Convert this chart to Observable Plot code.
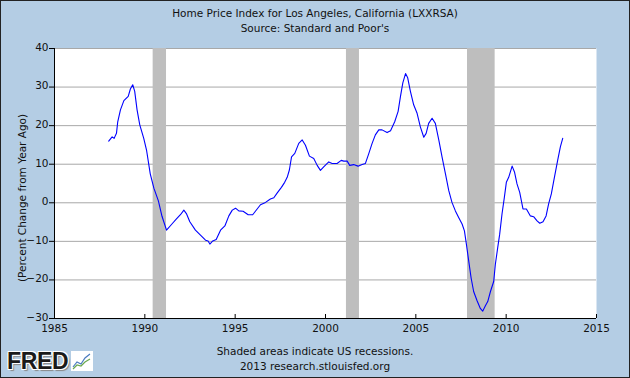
<!DOCTYPE html>
<html><head><meta charset="utf-8">
<script src="https://cdn.jsdelivr.net/npm/d3@7"></script>
<script src="https://cdn.jsdelivr.net/npm/@observablehq/plot@0.6"></script>
<style>
html,body{margin:0;padding:0;background:#fff}
#chart{position:relative;width:630px;height:378px;background:#B4CDE4;font-family:"DejaVu Sans",sans-serif;color:#111;overflow:hidden}
.t{position:absolute;left:0;width:630px;text-align:center;font-size:10.5px;line-height:12px;white-space:nowrap}
#plot{position:absolute;left:0;top:0}
#ylab{position:absolute;left:22px;top:198px;transform:translate(-50%,-50%) rotate(-90deg);font-size:10.5px;white-space:nowrap}
#border{position:absolute;left:0;top:0;width:630px;height:378px;box-sizing:border-box;border:1px solid #222;pointer-events:none}
#logo{position:absolute;left:7px;top:349px;height:24px;display:flex;align-items:center;gap:3px}
#logo b{font-family:"Liberation Sans",Arial,sans-serif;font-weight:900;font-size:23px;color:#1a1a1a;letter-spacing:-0.3px;text-shadow:1px 1px 0 #fff,-1px -1px 0 #fff,1px -1px 0 #fff,-1px 1px 0 #fff,2px 2px 1px #888}
</style></head>
<body><div id="chart">
<div class="t" style="top:7px">Home Price Index for Los Angeles, California (LXXRSA)</div>
<div class="t" style="top:22px">Source: Standard and Poor's</div>
<div id="ylab">(Percent Change from Year Ago)</div>
<div id="plot"></div>
<div class="t" style="top:345px">Shaded areas indicate US recessions.</div>
<div class="t" style="top:360px">2013 research.stlouisfed.org</div>
<div id="logo"><b>FRED</b><svg width="22" height="20" viewBox="0 0 22 20"><rect x="0" y="0" width="22" height="20" fill="#fff"/><polyline points="2,16 6,11 10,13 14,7 19,3" fill="none" stroke="#4a7bbf" stroke-width="1.2"/><polyline points="2,18 6,14 10,15 14,11 19,8" fill="none" stroke="#6aa84f" stroke-width="1.2"/></svg></div>
<div id="border"></div>
</div>
<script>
// Year-over-year % change, Los Angeles home price index
const years = [1988.0,1988.19,1988.3,1988.43,1988.5,1988.65,1988.84,1989.08,1989.2,1989.33,1989.44,1989.57,1989.72,1989.94,1990.1,1990.3,1990.5,1990.75,1990.95,1991.2,1991.5,1991.75,1991.97,1992.16,1992.3,1992.49,1992.8,1993.08,1993.36,1993.5,1993.6,1993.76,1993.95,1994.19,1994.43,1994.65,1994.84,1995.02,1995.2,1995.44,1995.72,1995.97,1996.12,1996.4,1996.68,1996.95,1997.14,1997.32,1997.56,1997.74,1997.88,1998.0,1998.12,1998.3,1998.52,1998.71,1998.89,1999.11,1999.35,1999.54,1999.72,1999.9,2000.18,2000.37,2000.64,2000.87,2001.01,2001.2,2001.34,2001.56,2001.8,2002.03,2002.21,2002.4,2002.58,2002.76,2002.95,2003.13,2003.41,2003.6,2003.83,2004.02,2004.15,2004.28,2004.43,2004.55,2004.7,2004.88,2005.07,2005.25,2005.44,2005.57,2005.71,2005.9,2006.08,2006.27,2006.45,2006.64,2006.82,2007.0,2007.19,2007.37,2007.56,2007.69,2007.8,2007.93,2008.06,2008.2,2008.39,2008.57,2008.7,2008.85,2008.98,2009.13,2009.31,2009.4,2009.53,2009.64,2009.77,2009.9,2010.01,2010.14,2010.33,2010.46,2010.6,2010.75,2010.93,2011.12,2011.34,2011.52,2011.71,2011.86,2012.04,2012.21,2012.35,2012.5,2012.67,2012.85,2013.0,2013.13];
const values = [16.0,17.1,16.7,18.0,21.0,24.1,26.5,27.6,29.5,30.6,28.9,24.1,20.2,16.7,13.5,7.5,3.8,0.5,-3.5,-7.1,-5.5,-4.2,-3.1,-1.9,-2.8,-4.9,-7.1,-8.4,-9.7,-9.9,-10.7,-9.9,-9.5,-7.1,-6.0,-3.4,-1.9,-1.4,-2.1,-2.2,-3.1,-3.1,-2.2,-0.5,0.1,1.0,1.3,2.5,4.0,5.3,6.6,8.5,11.9,12.8,15.4,16.3,14.9,12.1,11.5,9.7,8.4,9.3,10.6,10.2,10.2,11.0,10.8,10.8,9.7,9.9,9.5,9.9,10.2,12.8,15.4,17.6,18.9,18.9,18.2,18.7,21.0,23.7,27.6,31.1,33.5,32.4,28.9,25.4,23.2,19.7,17.0,18.0,20.6,21.9,20.6,16.3,11.9,7.5,3.2,0.1,-2.1,-3.8,-5.5,-7.3,-10.8,-15.2,-19.5,-23.0,-25.4,-27.4,-28.1,-26.7,-25.6,-23.0,-20.4,-16.0,-11.7,-8.2,-2.9,1.4,5.3,6.6,9.5,8.0,4.9,2.7,-1.6,-1.6,-3.4,-3.6,-4.7,-5.3,-4.9,-3.4,-0.3,2.3,6.6,11.0,14.5,16.7];
const recessionStart = [1990.46, 2001.16, 2007.86];
const recessionEnd = [1991.2, 2001.88, 2009.39];
const xTicks = [1985, 1990, 1995, 2000, 2005, 2010, 2015];
const yTicks = [-30, -20, -10, 0, 10, 20, 30, 40];

const series = years.map((y, i) => ({year: y, value: values[i]}));
const recessions = recessionStart.map((s, i) => ({start: s, end: recessionEnd[i]}));

const plot = Plot.plot({
  width: 630, height: 378,
  marginTop: 48, marginBottom: 60, marginLeft: 54, marginRight: 34,
  style: {background: "transparent", fontFamily: "DejaVu Sans", fontSize: "10.5px", color: "#111", overflow: "visible"},
  x: {domain: [1985, 2015], label: null},
  y: {domain: [-30, 40], label: null},
  marks: [
    Plot.frame({fill: "white", stroke: "none"}),
    Plot.gridY(yTicks, {stroke: "#A8A8A8", strokeOpacity: 1}),
    Plot.rect(recessions, {x1: "start", x2: "end", fill: "#BEBEBE"}),
    Plot.line(series, {x: "year", y: "value", stroke: "#0000FF", strokeWidth: 1.1}),
    Plot.ruleX([1985], {stroke: "#000"}),
    Plot.ruleY([-30], {stroke: "#000"}),
    Plot.tickX(xTicks, {x: d => d, insetTop: 266, stroke: "#000"}),
    Plot.axisX(xTicks, {tickSize: 0, tickPadding: 6, tickFormat: d => String(d), label: null}),
    Plot.axisY(yTicks, {tickSize: 5, tickFormat: () => "", stroke: "#000", label: null}),
    Plot.axisY(yTicks, {tickSize: 0, tickPadding: 6, label: null, dy: -1})
  ]
});
document.getElementById("plot").appendChild(plot);
</script>
</body></html>
